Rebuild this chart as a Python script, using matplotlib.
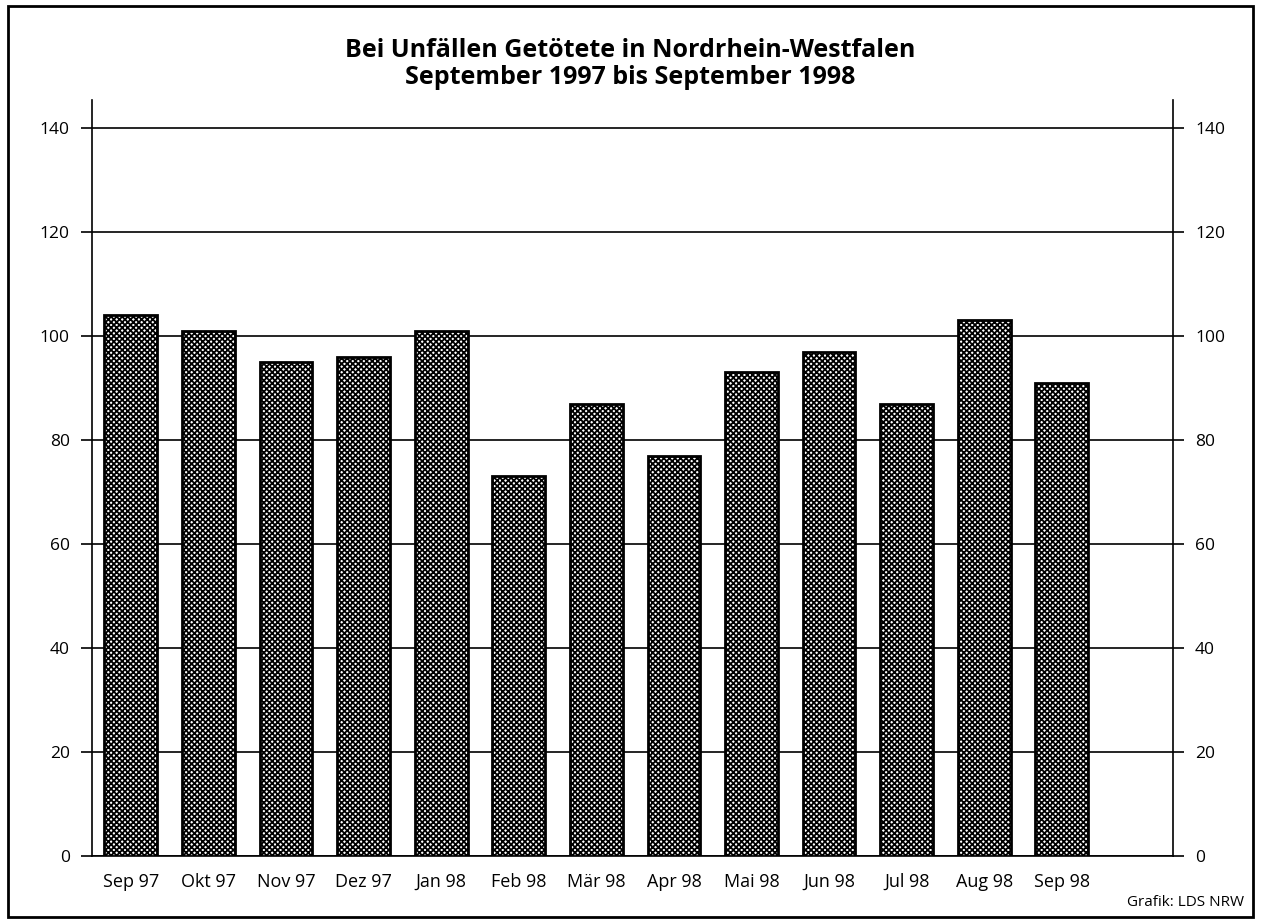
import matplotlib.pyplot as plt
import matplotlib.patches as patches

plt.rcParams['font.family'] = ['Open Sans', 'DejaVu Sans']
plt.rcParams['hatch.linewidth'] = 1.3

months = ['Sep 97', 'Okt 97', 'Nov 97', 'Dez 97', 'Jan 98', 'Feb 98', 'Mär 98',
          'Apr 98', 'Mai 98', 'Jun 98', 'Jul 98', 'Aug 98', 'Sep 98']
killed = [104, 101, 95, 96, 101, 73, 87, 77, 93, 97, 87, 103, 91]
y_ticks = [0, 20, 40, 60, 80, 100, 120, 140]

fig = plt.figure(figsize=(12.61, 9.23), dpi=100)
ax = fig.add_axes([0.073, 0.0726, 0.857, 0.819])

x = list(range(len(months)))
ax.bar(x, killed, width=0.68, facecolor='white', edgecolor='black',
       linewidth=2.0, hatch='xxxxxx', zorder=3)

ax.set_xlim(-0.5, 13.43)
ax.set_ylim(0, 145.4)
ax.set_yticks(y_ticks)
ax.set_xticks(x)
ax.set_xticklabels(months)

ax.set_axisbelow(True)
ax.yaxis.grid(True, color='black', linewidth=1.2)
ax.xaxis.grid(False)

ax.spines['top'].set_visible(False)
for s in ['left', 'right', 'bottom']:
    ax.spines[s].set_linewidth(1.2)

ax.tick_params(axis='y', which='both', left=True, right=True, labelleft=True,
               labelright=True, length=8, width=1.2, direction='out',
               labelsize=12.5, pad=8)
ax.tick_params(axis='x', length=0, labelsize=13, pad=12)

fig.text(0.5, 0.945, 'Bei Unfällen Getötete in Nordrhein-Westfalen',
         ha='center', va='center', fontsize=18, fontweight='bold')
fig.text(0.5, 0.916, 'September 1997 bis September 1998',
         ha='center', va='center', fontsize=18, fontweight='bold')
fig.text(0.987, 0.022, 'Grafik: LDS NRW', ha='right', va='center', fontsize=11)

frame = patches.Rectangle((0.006, 0.006), 0.988, 0.988, transform=fig.transFigure,
                          fill=False, edgecolor='black', linewidth=2)
fig.patches.append(frame)

fig.savefig('out.png', dpi=100)
